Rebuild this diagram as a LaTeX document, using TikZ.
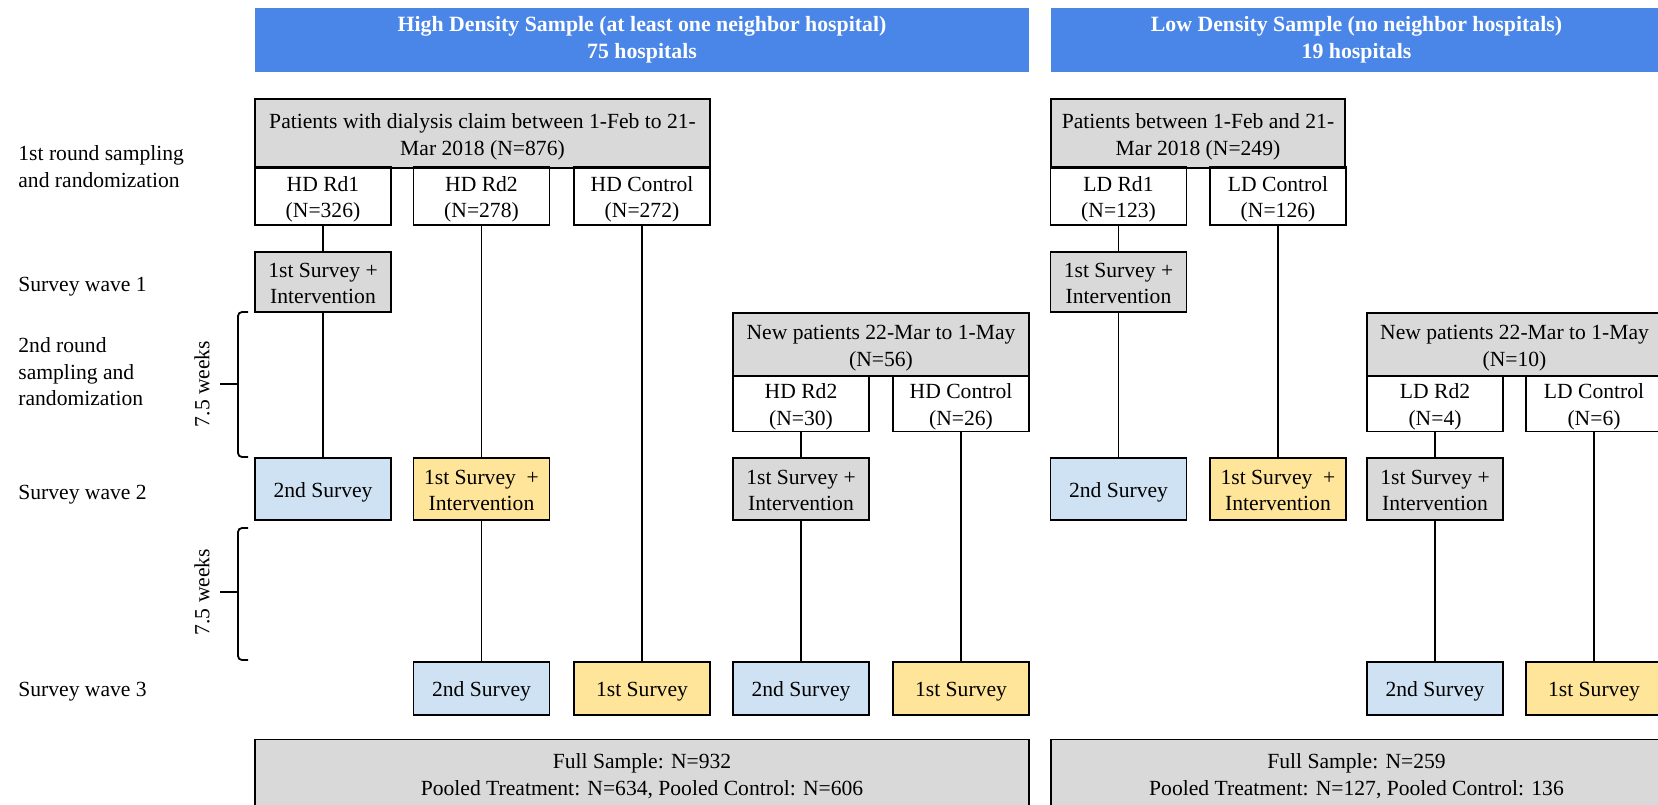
\documentclass[tikz,border=0pt]{standalone}
\usepackage{fontspec}
\setmainfont{Liberation Serif}
\usepackage{tikz}
\definecolor{headblue}{RGB}{74,134,232}
\definecolor{boxgrey}{RGB}{217,217,217}
\definecolor{surveyblue}{RGB}{207,226,243}
\definecolor{surveyyellow}{RGB}{255,229,153}

\begin{document}
\begin{tikzpicture}[x=0.5pt, y=-0.5pt,
  font=\fontsize{10.8}{13.3}\selectfont,
  box/.style={draw, line width=0.6pt, align=center, inner sep=0pt, minimum width=68pt,
    execute at begin node={\rule{0pt}{11.2pt}}, execute at end node={\rule[-3pt]{0pt}{3pt}}},
  twoline/.style={execute at begin node={\rule{0pt}{24.7pt}}},
  head/.style={fill=headblue, text=white, font=\fontsize{10.9}{13.3}\selectfont\bfseries,
    align=center, inner sep=0pt, minimum height=31.75pt},
  greybox/.style={box, fill=boxgrey},
  bluebox/.style={box, fill=surveyblue},
  yellowbox/.style={box, fill=surveyyellow},
  link/.style={line width=0.6pt},
  rowlabel/.style={anchor=west, align=left, inner sep=0pt}]
\clip (0,0) rectangle (1658,804);

%the headers
\node [head, minimum width=387pt] (hdhead) at (642,40) {High Density Sample (at least one neighbor hospital)\\75 hospitals};
\node [head, minimum width=305.5pt] (ldhead) at (1356.5,40) {Low Density Sample (no neighbor hospitals)\\19 hospitals};

%row labels
\node [rowlabel] (lab1) at (18,166.5) {1st round sampling\\and randomization};
\node [rowlabel] (lab2) at (18,286.5) {Survey wave 1};
\node [rowlabel] (lab3) at (18,372) {2nd round\\sampling and\\randomization};
\node [rowlabel] (lab4) at (18,494.5) {Survey wave 2};
\node [rowlabel] (lab5) at (18,691.5) {Survey wave 3};

%the braces
\draw [line width=0.9pt, rounded corners=2pt] (248,312) -- (238,312) -- (238,457) -- (248,457);
\draw [line width=0.9pt] (238,384) -- (220,384);
\node [rotate=90] (weeks1) at (202,384) {7.5 weeks};
\draw [line width=0.9pt, rounded corners=2pt] (248,528) -- (238,528) -- (238,660) -- (248,660);
\draw [line width=0.9pt] (238,592) -- (220,592);
\node [rotate=90] (weeks2) at (202,592) {7.5 weeks};

%high density: first round
\node [greybox, twoline, minimum width=227.5pt, minimum height=34.5pt] (hdpat) at (482.5,133.5)
  {Patients with dialysis claim between 1-Feb to 21-\\Mar 2018 (N=876)};
\node [box, twoline, minimum height=29pt] (hdrdone) at (323,196) {HD Rd1\\(N=326)};
\node [box, twoline, minimum height=29pt] (hdrdtwo) at (481.5,196) {HD Rd2\\(N=278)};
\node [box, twoline, minimum height=29pt] (hdctrl) at (642,196) {HD Control\\(N=272)};
\node [greybox, twoline, minimum height=30pt] (hdwaveone) at (323,282) {1st Survey +\\Intervention};

%high density: second round
\node [greybox, twoline, minimum width=148pt, minimum height=31.5pt] (hdnew) at (881,344.5)
  {New patients 22-Mar to 1-May\\(N=56)};
\node [box, twoline, minimum height=27.5pt] (hdnewrd) at (801,403.5) {HD Rd2\\(N=30)};
\node [box, twoline, minimum height=27.5pt] (hdnewctrl) at (961,403.5) {HD Control\\(N=26)};

%high density: wave 2
\node [bluebox, minimum height=31pt] (hdtwoa) at (323,489) {2nd Survey};
\node [yellowbox, twoline, minimum height=31pt] (hdtwob) at (481.5,489) {1st Survey\ \ +\\Intervention};
\node [greybox, twoline, minimum height=31pt] (hdtwoc) at (801,489) {1st Survey +\\Intervention};

%high density: wave 3
\node [bluebox, minimum height=26.5pt] (hdthreea) at (481.5,688.5) {2nd Survey};
\node [yellowbox, minimum height=26.5pt] (hdthreeb) at (642,688.5) {1st Survey};
\node [bluebox, minimum height=26.5pt] (hdthreec) at (801,688.5) {2nd Survey};
\node [yellowbox, minimum height=26.5pt] (hdthreed) at (961,688.5) {1st Survey};

%low density: first round
\node [greybox, twoline, minimum width=147pt, minimum height=34.5pt] (ldpat) at (1198,133.5)
  {Patients between 1-Feb and 21-\\Mar 2018 (N=249)};
\node [box, twoline, minimum height=29pt] (ldrdone) at (1118.5,196) {LD Rd1\\(N=123)};
\node [box, twoline, minimum height=29pt] (ldctrl) at (1278,196) {LD Control\\(N=126)};
\node [greybox, twoline, minimum height=30pt] (ldwaveone) at (1118.5,282) {1st Survey +\\Intervention};

%low density: second round
\node [greybox, twoline, minimum width=147.5pt, minimum height=31.5pt] (ldnew) at (1514.5,344.5)
  {New patients 22-Mar to 1-May\\(N=10)};
\node [box, twoline, minimum height=27.5pt] (ldnewrd) at (1435,403.5) {LD Rd2\\(N=4)};
\node [box, twoline, minimum height=27.5pt] (ldnewctrl) at (1594,403.5) {LD Control\\(N=6)};

%low density: wave 2
\node [bluebox, minimum height=31pt] (ldtwoa) at (1118.5,489) {2nd Survey};
\node [yellowbox, twoline, minimum height=31pt] (ldtwob) at (1278,489) {1st Survey\ \ +\\Intervention};
\node [greybox, twoline, minimum height=31pt] (ldtwoc) at (1435,489) {1st Survey +\\Intervention};

%low density: wave 3
\node [bluebox, minimum height=26.5pt] (ldthreea) at (1435,688.5) {2nd Survey};
\node [yellowbox, minimum height=26.5pt] (ldthreeb) at (1594,688.5) {1st Survey};

%the totals
\node [greybox, twoline, minimum width=387pt, minimum height=34pt] (hdtotal) at (642,773.5)
  {Full Sample: N=932\\Pooled Treatment: N=634, Pooled Control: N=606};
\node [greybox, twoline, minimum width=305.5pt, minimum height=34pt] (ldtotal) at (1356.5,773.5)
  {Full Sample: N=259\\Pooled Treatment: N=127, Pooled Control: 136};

%the links
\draw [link] (hdrdone) -- (hdwaveone);
\draw [link] (hdwaveone) -- (hdtwoa);
\draw [link] (hdrdtwo) -- (hdtwob);
\draw [link] (hdtwob) -- (hdthreea);
\draw [link] (hdctrl) -- (hdthreeb);
\draw [link] (hdnewrd) -- (hdtwoc);
\draw [link] (hdtwoc) -- (hdthreec);
\draw [link] (hdnewctrl) -- (hdthreed);
\draw [link] (ldrdone) -- (ldwaveone);
\draw [link] (ldwaveone) -- (ldtwoa);
\draw [link] (ldctrl) -- (ldtwob);
\draw [link] (ldnewrd) -- (ldtwoc);
\draw [link] (ldtwoc) -- (ldthreea);
\draw [link] (ldnewctrl) -- (ldthreeb);
\end{tikzpicture}
\end{document}
